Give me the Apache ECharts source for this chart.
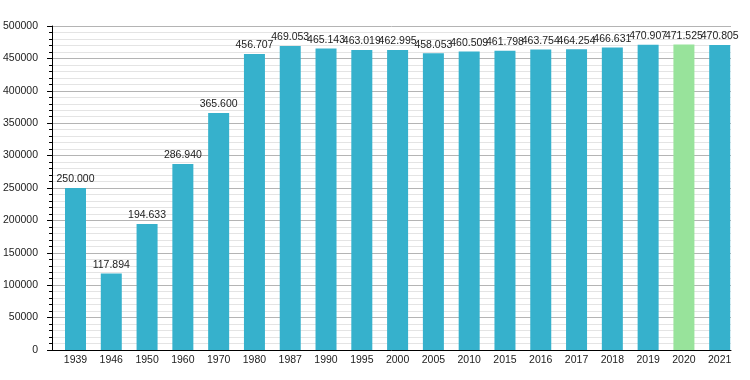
<!DOCTYPE html>
<html>
<head>
<meta charset="utf-8">
<script src="https://cdn.jsdelivr.net/npm/echarts@6/dist/echarts.min.js"></script>
<style>
html,body{margin:0;padding:0;background:#fff;}
#chart{width:750px;height:380px;}
</style>
</head>
<body>
<div id="chart"></div>
<script>
const years = ['1939','1946','1950','1960','1970','1980','1987','1990','1995','2000','2005','2010','2015','2016','2017','2018','2019','2020','2021'];
const population = [250000,117894,194633,286940,365600,456707,469053,465143,463019,462995,458053,460509,461798,463754,464254,466631,470907,471525,470805];
const highlightYear = '2020';
const yTicksMax = 500000;
const yTickStep = 50000;

const FONT = '"Liberation Sans", Arial, sans-serif';
const BLUE = '#36b1cc';
const GREEN = '#98e39b';

function fmt(v){
  return String(v).replace(/\B(?=(\d{3})+(?!\d))/g, '.');
}

const chart = echarts.init(document.getElementById('chart'), null, {renderer:'canvas'});
chart.setOption({
  animation:false,
  backgroundColor:'#fff',
  textStyle:{fontFamily:FONT},
  grid:[
    {left:51, right:19, top:26, bottom:30},
    {left:57.6, right:12.4, top:26, bottom:30}
  ],
  xAxis:[
    {gridIndex:0, type:'value', min:0, max:1,
     axisLine:{show:true, onZero:false, lineStyle:{color:'#000', width:1}},
     axisTick:{show:false}, axisLabel:{show:false}, splitLine:{show:false}},
    {gridIndex:1, type:'category', data:years,
     axisLine:{show:false}, axisTick:{show:false},
     axisLabel:{interval:0, color:'#222', fontSize:10.5, fontFamily:FONT, margin:5}}
  ],
  yAxis:[
    {gridIndex:0, type:'value', min:0, max:yTicksMax, interval:yTickStep,
     axisLine:{show:true, lineStyle:{color:'#000', width:1}},
     axisTick:{show:true, length:5, lineStyle:{color:'#000'}},
     minorTick:{show:true, splitNumber:5, length:3, lineStyle:{color:'#000'}},
     axisLabel:{color:'#222', fontSize:10.5, fontFamily:FONT, margin:14, formatter:v=>String(v)},
     splitLine:{show:true, lineStyle:{color:'#b4b4b4', width:1}},
     minorSplitLine:{show:true, lineStyle:{color:'#e4e4e4', width:1}}},
    {gridIndex:1, type:'value', min:0, max:yTicksMax, show:false, splitLine:{show:false}}
  ],
  series:[{
    type:'bar',
    xAxisIndex:1, yAxisIndex:1,
    barWidth:21,
    data: population.map((v,i)=>({value:v, itemStyle:{color: years[i]===highlightYear ? GREEN : BLUE}})),
    label:{show:true, position:'top', distance:3, color:'#222', fontSize:10.5, fontFamily:FONT,
      formatter:p=>fmt(p.value)}
  }]
});
</script>
</body>
</html>
